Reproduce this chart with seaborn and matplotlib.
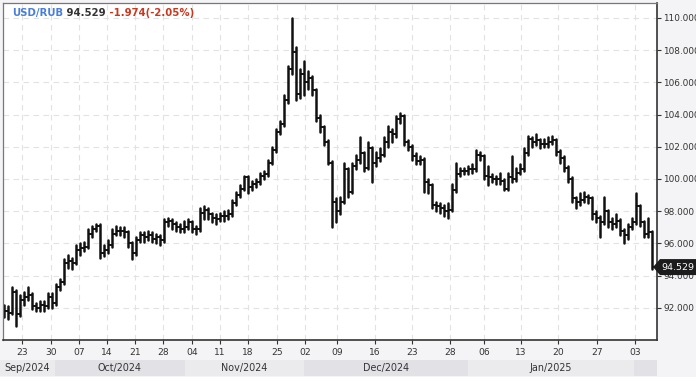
import matplotlib
matplotlib.use("Agg")
import matplotlib.pyplot as plt
from matplotlib.patches import Polygon
from matplotlib.transforms import IdentityTransform
import seaborn as sns
import pandas as pd
import numpy as np

# ---------------- data ----------------
first_open = 91.9
closes = [
    91.8, 91.7, 93.0, 91.6, 92.5, 92.7, 92.8, 92.1, 92.0, 92.2,
    92.1, 92.7, 92.3, 93.3, 93.6, 94.8, 94.9, 94.8, 95.6, 95.7,
    95.8, 96.6, 96.9, 97.1, 95.4, 95.6, 95.9, 96.6, 96.8, 96.8,
    96.7, 96.0, 95.4, 96.2, 96.5, 96.4, 96.5, 96.3, 96.4, 96.2,
    97.3, 97.4, 97.2, 97.0, 96.9, 97.0, 97.3, 96.9, 96.9, 97.9,
    98.1, 97.8, 97.6, 97.5, 97.7, 97.7, 97.8, 98.5, 99.0, 99.4,
    100.1, 99.5, 99.7, 99.8, 100.2, 100.3, 101.0, 101.8, 102.9, 103.4,
    104.9, 106.8, 107.9, 105.3, 106.5, 106.0, 106.3, 105.5, 103.8, 103.2,
    102.3, 101.0, 98.6, 98.0, 98.6, 100.6, 99.2, 100.8, 101.2, 101.6,
    100.7, 101.9, 101.0, 101.3, 101.5, 102.3, 102.9, 102.8, 103.7, 103.9,
    102.3, 102.0, 101.4, 101.1, 101.2, 99.8, 99.6, 98.4, 98.3, 98.2,
    98.0, 98.1, 99.3, 100.3, 100.5, 100.5, 100.6, 100.6, 101.5, 101.4,
    100.2, 100.1, 100.0, 100.0, 99.9, 99.4, 100.1, 100.0, 100.4, 100.6,
    101.6, 102.5, 102.3, 102.4, 102.2, 102.2, 102.3, 102.4, 101.7, 101.3,
    100.7, 100.0, 98.8, 98.6, 98.7, 98.9, 98.8, 97.8, 97.6, 97.3,
    98.0, 97.3, 97.2, 97.4, 96.8, 96.5, 97.0, 97.3, 98.3, 97.3,
    96.6, 96.7, 94.529,
]
highs = [
    92.2, 92.1, 93.3, 93.1, 92.8, 93.0, 93.3, 92.9, 92.3, 92.4,
    92.4, 92.9, 92.9, 93.5, 93.8, 95.0, 95.3, 95.1, 95.9, 96.0,
    96.1, 96.9, 97.1, 97.2, 97.2, 95.9, 96.2, 96.9, 97.1, 97.0,
    97.0, 96.8, 96.1, 96.4, 96.7, 96.7, 96.8, 96.7, 96.6, 96.5,
    97.5, 97.6, 97.5, 97.3, 97.2, 97.4, 97.5, 97.4, 97.1, 98.2,
    98.3, 98.2, 97.9, 97.8, 97.9, 98.0, 98.1, 98.7, 99.2, 99.6,
    100.2, 100.2, 99.9, 100.0, 100.4, 100.5, 101.2, 102.0, 103.1, 103.6,
    105.2, 107.0, 110.0, 108.2, 106.8, 107.3, 106.7, 106.4, 105.6, 104.0,
    103.3, 102.4, 101.1, 98.8, 98.9, 101.0, 100.7, 101.0, 101.5, 102.6,
    101.7, 102.3, 102.0, 101.7, 101.9, 102.6, 103.3, 103.1, 103.9, 104.1,
    104.0, 102.4, 102.1, 101.6, 101.4, 101.3, 100.0, 99.7, 98.6, 98.5,
    98.4, 98.5, 99.7, 101.0, 100.7, 100.7, 100.8, 100.9, 101.8, 101.7,
    101.5, 100.8, 100.3, 100.2, 100.4, 100.0, 100.4, 101.4, 100.7, 100.9,
    101.9, 102.7, 102.6, 102.8, 102.5, 102.5, 102.6, 102.7, 102.5, 101.8,
    101.4, 100.8, 100.1, 98.9, 99.1, 99.2, 99.0, 98.9, 98.0, 97.7,
    98.9, 98.1, 97.6, 97.8, 97.5, 96.9, 97.2, 97.6, 99.1, 98.4,
    97.4, 97.6, 96.8,
]
lows = [
    91.4, 91.3, 91.6, 90.9, 91.5, 92.2, 92.5, 91.9, 91.8, 91.8,
    91.8, 92.0, 92.0, 92.2, 93.1, 93.5, 94.5, 94.4, 94.7, 95.3,
    95.5, 95.7, 96.4, 96.8, 95.1, 95.2, 95.4, 95.8, 96.5, 96.5,
    96.4, 95.8, 95.0, 95.3, 96.1, 96.1, 96.2, 96.1, 96.0, 95.9,
    96.1, 97.1, 96.9, 96.8, 96.7, 96.7, 96.9, 96.7, 96.6, 96.8,
    97.5, 97.5, 97.3, 97.2, 97.4, 97.4, 97.5, 97.7, 98.4, 98.9,
    99.3, 99.1, 99.3, 99.5, 99.7, 100.0, 100.2, 100.9, 101.7, 102.8,
    103.3, 104.7, 106.5, 104.9, 105.0, 105.2, 105.6, 105.2, 103.6, 102.9,
    102.1, 100.9, 97.0, 97.3, 97.8, 98.5, 98.9, 99.1, 100.6, 101.0,
    100.5, 100.6, 99.8, 100.8, 101.1, 101.4, 102.0, 102.3, 102.6, 103.5,
    102.1, 101.8, 101.2, 100.9, 100.9, 99.2, 99.1, 98.2, 98.0, 97.9,
    97.7, 97.6, 98.0, 99.2, 100.2, 100.3, 100.3, 100.4, 100.5, 101.2,
    100.0, 99.6, 99.8, 99.7, 99.7, 99.3, 99.3, 99.8, 99.9, 100.3,
    100.5, 101.5, 102.0, 102.1, 101.9, 102.0, 102.0, 102.2, 101.5, 101.0,
    100.5, 99.8, 98.6, 98.2, 98.4, 98.6, 98.5, 97.5, 97.3, 96.4,
    97.2, 97.0, 96.9, 97.0, 96.5, 96.0, 96.3, 96.9, 97.2, 97.1,
    96.4, 96.4, 94.4,
]
symbol = "USD/RUB"
change_text = "-1.974(-2.05%)"
tick_labels = ["23", "30", "07", "14", "21", "28", "04", "11", "18", "25",
               "02", "09", "16", "23", "28", "06", "13", "20", "27", "03"]
month_labels = ["Sep/2024", "Oct/2024", "Nov/2024", "Dec/2024", "Jan/2025", ""]
y_ticks = [92, 94, 96, 98, 100, 102, 104, 106, 108, 110]

# ---------------- layout (bar-index positions of axis features) ----------------
tick_pos = [4.5, 11.75, 18.75, 25.75, 32.75, 39.75, 47, 54, 61, 68.25,
            75.25, 83.25, 92.75, 102, 111.5, 120, 129.25, 138.5, 148.25, 157.75]
month_edges = [-1, 12.75, 45.25, 75, 116, 157.5, 163.25]

n = len(closes)
t = np.arange(n)
opens = [first_open] + closes[:-1]
hi = [max(h, o, c) for h, o, c in zip(highs, opens, closes)]
lo = [min(l, o, c) for l, o, c in zip(lows, opens, closes)]

df = pd.DataFrame({
    "t": np.concatenate([t, t]),
    "price": np.concatenate([lo, hi]),
})

sns.set_style("white")
plt.rcParams["font.family"] = ["DejaVu Sans"]

W, H = 696, 377
fig = plt.figure(figsize=(W / 100, H / 100), dpi=100)
fig.patch.set_facecolor("#f4f4f6")

ax = fig.add_axes([3 / W, (H - 340) / H, 654 / W, 337 / H])
ax.set_facecolor("white")

sns.lineplot(data=df, x="t", y="price", units="t", estimator=None, sort=False,
             color="#111111", lw=1.8, ax=ax, legend=False)
ax.hlines(opens, t - 0.55, t, color="#111111", lw=1.4)
ax.hlines(closes, t, t + 0.55, color="#111111", lw=1.4)

ax.set_xlim(-0.25, 163.25)
ax.set_ylim(90.0, 110.93)
ax.set_xlabel("")
ax.set_ylabel("")

ax.set_xticks(tick_pos)
ax.set_xticklabels(tick_labels)
ax.set_yticks(y_ticks)
ax.set_yticklabels([f"{v:.3f}" for v in y_ticks])
ax.yaxis.tick_right()
ax.tick_params(axis="y", direction="out", length=3, width=0.8, color="#333333",
               labelsize=6.4, labelcolor="#333333", pad=1.5, right=True, left=False)
ax.tick_params(axis="x", direction="out", length=3, width=0.8, color="#333333",
               labelsize=6.6, labelcolor="#333333", pad=3, bottom=True)

ax.grid(True, color="#e2e2e2", linestyle=(0, (5, 4)), lw=0.8)
ax.set_axisbelow(True)
for side in ["left", "top"]:
    ax.spines[side].set_color("#777777")
    ax.spines[side].set_linewidth(0.9)
for side in ["right", "bottom"]:
    ax.spines[side].set_color("#333333")
    ax.spines[side].set_linewidth(1.2)

# header
t1 = ax.text(9 / 654, 1 - 10 / 337, symbol, transform=ax.transAxes, color="#4a7fd8",
             fontsize=7.3, fontweight="bold", va="center", ha="left")
t2 = ax.annotate(" " + f"{closes[-1]:.3f}", xy=(1, 0), xycoords=t1, va="bottom", ha="left",
                 color="#333333", fontsize=7.3, fontweight="bold")
t3 = ax.annotate(" " + change_text, xy=(1, 0), xycoords=t2, va="bottom", ha="left",
                 color="#c8381f", fontsize=7.3, fontweight="bold")

# price tag
fig.canvas.draw()
yd = ax.transData.transform((0, closes[-1]))[1]
xr = ax.transAxes.transform((1, 0))[0]
poly = Polygon([(xr - 4, yd), (xr + 3, yd + 8), (W, yd + 8), (W, yd - 8), (xr + 3, yd - 8)],
               closed=True, transform=IdentityTransform(), facecolor="#1c1c1c",
               edgecolor="none", zorder=10)
fig.patches.append(poly)
fig.text((xr + 3 + W) / 2 / W, yd / H, f"{closes[-1]:.3f}", color="white",
         fontsize=6.8, ha="center", va="center", zorder=11)

# month band
bx = fig.add_axes([0, 1 / H, 657 / W, 16 / H])
bx.set_xlim(-1, 163.25)
bx.set_ylim(0, 1)
band_cols = ["#ebebee", "#e2e2e6"]
for k in range(len(month_edges) - 1):
    a, b = month_edges[k], month_edges[k + 1]
    bx.axvspan(a, b, color=band_cols[k % 2], lw=0)
    if month_labels[k]:
        bx.text((a + b) / 2, 0.5, month_labels[k], ha="center", va="center",
                fontsize=6.9, color="#333333")
bx.axis("off")

fig.savefig("out.png", dpi=100, facecolor=fig.get_facecolor())
